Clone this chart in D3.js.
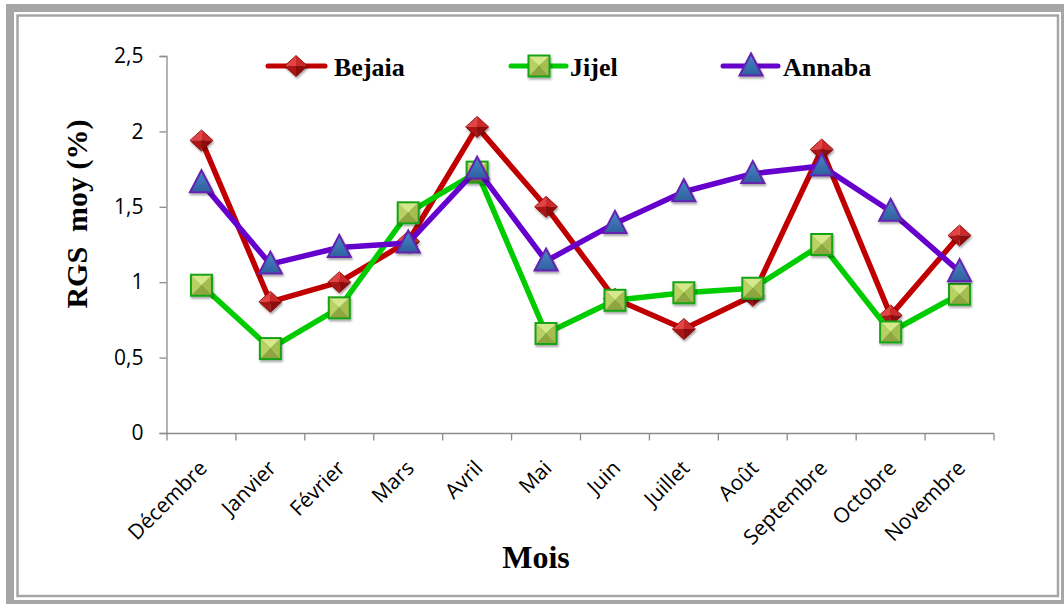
<!DOCTYPE html>
<html><head><meta charset="utf-8">
<script src="https://cdn.jsdelivr.net/npm/d3@7"></script>
<style>
html,body{margin:0;padding:0;background:#fff;}
svg{display:block;}
</style></head>
<body>
<svg id="chart" width="1064" height="604"></svg>
<script>
const months = ["Décembre","Janvier","Février","Mars","Avril","Mai","Juin","Juillet","Août","Septembre","Octobre","Novembre"];
const bejaia = [1.94,0.87,1.00,1.27,2.03,1.50,0.89,0.69,0.91,1.88,0.78,1.31];
const jijel  = [0.98,0.56,0.83,1.46,1.73,0.66,0.88,0.93,0.96,1.25,0.67,0.92];
const annaba = [1.66,1.12,1.23,1.26,1.75,1.14,1.39,1.60,1.72,1.77,1.47,1.07];
const yTicks = [0,0.5,1,1.5,2,2.5];
const seriesNames = ["Bejaia","Jijel","Annaba"];

const svg = d3.select("#chart");
const defs = svg.append("defs");

// frame
svg.append("rect").attr("x",10).attr("y",8).attr("width",1055).attr("height",596)
  .attr("fill","none").attr("stroke","#a6a6a6").attr("stroke-width",8);
svg.append("rect").attr("x",17.5).attr("y",15.5).attr("width",1040.5).attr("height",580.5)
  .attr("fill","none").attr("stroke","#a6a6a6").attr("stroke-width",2.5);

const x = d3.scaleBand().domain(months).range([167,994]).paddingInner(0).paddingOuter(0);
const y = d3.scaleLinear().domain([0,2.5]).range([433,56]);

// gradients
function lin(id, stops, x1=0,y1=0,x2=0,y2=1){
  const g = defs.append("linearGradient").attr("id",id)
    .attr("x1",x1).attr("y1",y1).attr("x2",x2).attr("y2",y2);
  stops.forEach(s=>g.append("stop").attr("offset",s[0]).attr("stop-color",s[1]));
}
lin("gRedTop",[[0,"#f06060"],[1,"#d42a2a"]]);
lin("gRedBot",[[0,"#b81818"],[1,"#8a0808"]]);
lin("gTri",[[0,"#4a86c8"],[1,"#2f5f9e"]]);
const f = defs.append("filter").attr("id","shadow").attr("x","-50%").attr("y","-50%").attr("width","200%").attr("height","200%");
f.append("feDropShadow").attr("dx",1).attr("dy",2).attr("stdDeviation",1.2).attr("flood-color","#000").attr("flood-opacity",0.35);

function diamond(g){
  const w=11.5, h=10.5;
  g.append("path").attr("d",`M${-w},0L0,${-h}L0,0Z`).attr("fill","#e04545");
  g.append("path").attr("d",`M0,${-h}L${w},0L0,0Z`).attr("fill","#cc2a2a");
  g.append("path").attr("d",`M${-w},0L0,${h}L0,0Z`).attr("fill","#a81414");
  g.append("path").attr("d",`M0,${h}L${w},0L0,0Z`).attr("fill","#8c0a0a");
  g.append("path").attr("d",`M${-w},0L0,${-h}L${w},0L0,${h}Z`).attr("fill","none").attr("stroke","#8a0000").attr("stroke-width",0.8);
}
function square(g){
  const s=10.5;
  g.append("path").attr("d",`M${-s},${-s}L${s},${-s}L0,0Z`).attr("fill","#d6e88c");
  g.append("path").attr("d",`M${-s},${-s}L${-s},${s}L0,0Z`).attr("fill","#b9d064");
  g.append("path").attr("d",`M${s},${-s}L${s},${s}L0,0Z`).attr("fill","#a6bd50");
  g.append("path").attr("d",`M${-s},${s}L${s},${s}L0,0Z`).attr("fill","#8fa640");
  g.append("rect").attr("x",-s).attr("y",-s).attr("width",2*s).attr("height",2*s)
    .attr("fill","none").attr("stroke","#17a317").attr("stroke-width",2);
}
function triangle(g){
  const w=11.5, ht=12.5, hb=9.5;
  g.append("path").attr("d",`M0,${-ht}L${w},${hb}L${-w},${hb}Z`).attr("fill","url(#gTri)")
    .attr("stroke","#6420b0").attr("stroke-width",2).attr("stroke-linejoin","miter");
}
const markers = [diamond, square, triangle];
const colors = ["#c00000","#00cc00","#6600cc"];
const data = [bejaia, jijel, annaba];

// axes
const axisColor = "#8c8c8c";
const yAxis = d3.axisLeft(y).tickValues(yTicks).tickSize(7).tickPadding(16)
  .tickFormat(d=>String(d).replace(".",","));
const gy = svg.append("g").attr("transform","translate(166.5,0)").call(yAxis);
gy.select(".domain").attr("stroke",axisColor).attr("stroke-width",1.3);
gy.selectAll(".tick line").attr("stroke",axisColor).attr("stroke-width",1.3);
gy.selectAll(".tick text").attr("font-family","'Open Sans'").attr("font-size",21).attr("fill","#000");

const gx = svg.append("g").attr("transform","translate(0,433.5)");
gx.append("line").attr("x1",x.range()[0]-1).attr("x2",x.range()[1]).attr("stroke",axisColor).attr("stroke-width",1.3);
const boundaries = months.map(m=>x(m)).concat([x(months[months.length-1])+x.bandwidth()]);
gx.selectAll("line.tk").data(boundaries).enter().append("line").attr("class","tk")
  .attr("x1",d=>d).attr("x2",d=>d).attr("y1",0).attr("y2",7)
  .attr("stroke",axisColor).attr("stroke-width",1.3);
gx.selectAll("text.lbl").data(months).enter().append("text").attr("class","lbl")
  .attr("transform",d=>`translate(${x(d)+x.bandwidth()/2+7},${36}) rotate(-45)`)
  .attr("text-anchor","end").attr("font-family","'Open Sans'").attr("font-size",21).attr("fill","#000")
  .text(d=>d);

// titles
svg.append("text").attr("transform","translate(87,214) rotate(-90)").attr("text-anchor","middle")
  .attr("font-family","'Liberation Serif'").attr("font-weight","bold").attr("font-size",30)
  .attr("xml:space","preserve").text("RGS  moy (%)");
svg.append("text").attr("x",536).attr("y",568).attr("text-anchor","middle")
  .attr("font-family","'Liberation Serif'").attr("font-weight","bold").attr("font-size",32)
  .text("Mois");

// series
const line = d3.line().x((d,i)=>x(months[i])+x.bandwidth()/2).y(d=>y(d));
data.forEach((vals,si)=>{
  const g = svg.append("g");
  g.append("path").datum(vals).attr("d",line).attr("fill","none")
    .attr("stroke",colors[si]).attr("stroke-width",5.5).attr("stroke-linejoin","round");
  vals.forEach((v,i)=>{
    const m = g.append("g").attr("transform",`translate(${x(months[i])+x.bandwidth()/2},${y(v)})`)
      .attr("filter","url(#shadow)");
    markers[si](m);
  });
});

// legend
const legendPos = [{x0:268,x1:325,mx:296,tx:334},{x0:511,x1:566,mx:539,tx:570},{x0:723,x1:778,mx:751,tx:783}];
seriesNames.forEach((name,si)=>{
  const p = legendPos[si];
  const g = svg.append("g");
  g.append("line").attr("x1",p.x0).attr("x2",p.x1).attr("y1",66).attr("y2",66)
    .attr("stroke",colors[si]).attr("stroke-width",5).attr("stroke-linecap","round");
  const m = g.append("g").attr("transform",`translate(${p.mx},66)`).attr("filter","url(#shadow)");
  markers[si](m);
  g.append("text").attr("x",p.tx).attr("y",76).attr("font-family","'Liberation Serif'")
    .attr("font-weight","bold").attr("font-size",26).attr("fill","#000").text(name);
});
</script>
</body></html>
